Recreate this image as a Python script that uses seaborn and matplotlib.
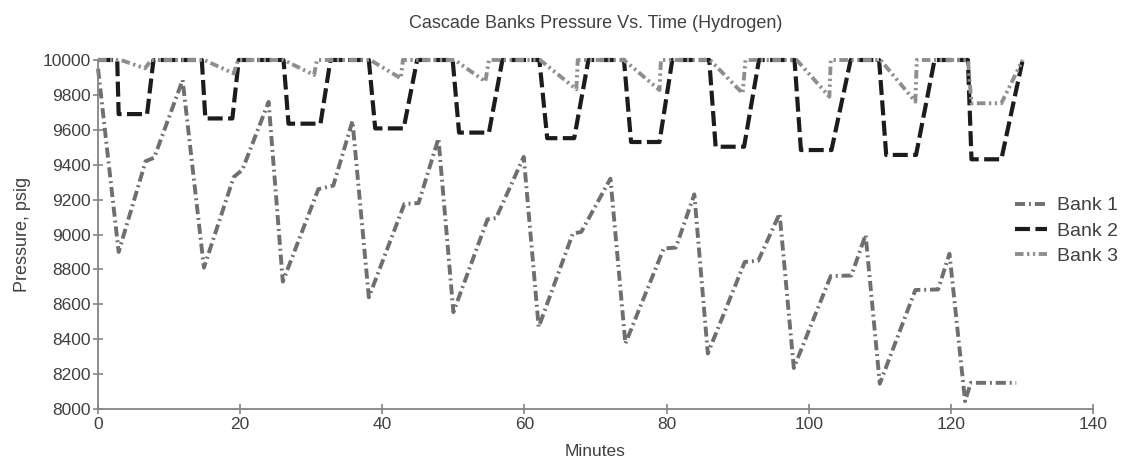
import matplotlib
matplotlib.use("Agg")
import matplotlib.pyplot as plt
import seaborn as sns

# Bank 1 (dash-dot, mid gray)
bank1_min = [0, 2.9, 6.7, 7.9, 11.9, 14.9, 19.1, 20.3, 24.0, 26.0, 31.0, 33.1, 35.8,
             38.1, 43.1, 45.1, 47.9, 50.0, 54.8, 56.0, 59.9, 62.0, 66.8, 68.0, 72.1,
             74.2, 79.6, 81.3, 83.9, 85.8, 91.0, 92.9, 95.9, 97.9, 103.1, 106.0, 108.0,
             110.0, 115.0, 118.2, 119.8, 122.0, 122.8, 129.2]
bank1_psi = [9950, 8900, 9420, 9440, 9885, 8810, 9330, 9370, 9760, 8730, 9260, 9280, 9650,
             8640, 9175, 9180, 9550, 8555, 9087, 9094, 9445, 8470, 9005, 9015, 9320,
             8375, 8920, 8925, 9230, 8318, 8843, 8850, 9120, 8235, 8762, 8765, 8998,
             8145, 8682, 8685, 8890, 8045, 8150, 8150]

# Bank 2 (dashed, black)
bank2_min = [0, 2.7, 2.9, 6.9, 7.8, 14.6, 15.1, 18.9, 19.8, 26.1, 26.8, 31.3, 32.7,
             38.1, 39.0, 43.0, 44.9, 49.9, 50.8, 55.0, 56.9, 62.1, 63.2, 67.0, 69.0,
             74.0, 75.0, 79.0, 80.8, 86.0, 86.9, 90.9, 93.0, 98.0, 98.9, 103.2, 105.9,
             109.9, 110.9, 115.1, 117.7, 122.4, 122.9, 127.1, 130.1]
bank2_psi = [10000, 10000, 9690, 9690, 10000, 10000, 9665, 9665, 10000, 10000, 9635, 9635, 10000,
             10000, 9608, 9608, 10000, 10000, 9584, 9584, 10000, 10000, 9552, 9552, 10000,
             10000, 9530, 9530, 10000, 10000, 9503, 9503, 10000, 10000, 9484, 9484, 10000,
             10000, 9456, 9456, 10000, 10000, 9431, 9431, 10000]

# Bank 3 (dash-dot-dot, light gray)
bank3_min = [0, 3.2, 6.6, 7.5, 14.9, 19.1, 19.7, 26.1, 30.4, 30.8, 38.3, 42.6, 42.9,
             50.2, 54.5, 55.0, 62.2, 67.3, 67.5, 74.0, 79.0, 79.2, 86.1, 90.7, 91.1,
             98.3, 102.9, 103.1, 110.1, 115.0, 115.2, 122.4, 122.9, 127.1, 130.1]
bank3_psi = [10000, 10000, 9952, 10000, 10000, 9923, 10000, 10000, 9914, 10000, 10000, 9895, 10000,
             10000, 9876, 10000, 10000, 9832, 10000, 10000, 9828, 10000, 10000, 9809, 10000,
             10000, 9790, 10000, 10000, 9761, 10000, 10000, 9752, 9752, 10000]

x_ticks = list(range(0, 141, 20))
y_ticks = list(range(8000, 10001, 200))

sns.set_theme(style="white")
plt.rcParams["font.family"] = ["Liberation Sans", "DejaVu Sans"]
text_col = "#404040"
axis_col = "#858585"

fig = plt.figure(figsize=(11.23, 4.59), dpi=100)
ax = fig.add_axes([0.0873, 0.1089, 0.886, 0.7604])

sns.lineplot(x=bank1_min, y=bank1_psi, ax=ax, sort=False, estimator=None, color="#6f6f6f",
             linewidth=2.8, linestyle=(0, (2.6, 1.0, 0.5, 1.0)), label="Bank 1", clip_on=False)
sns.lineplot(x=bank2_min, y=bank2_psi, ax=ax, sort=False, estimator=None, color="#1c1c1c",
             linewidth=3.0, linestyle=(0, (3.6, 1.3)), label="Bank 2", clip_on=False)
sns.lineplot(x=bank3_min, y=bank3_psi, ax=ax, sort=False, estimator=None, color="#8e8e8e",
             linewidth=2.8, linestyle=(0, (2.2, 0.9, 0.6, 0.9, 0.6, 0.9)), label="Bank 3", clip_on=False)

ax.set_xlim(0, 140)
ax.set_ylim(8000, 10000)
ax.set_xticks(x_ticks)
ax.set_yticks(y_ticks)
for side in ["top", "right"]:
    ax.spines[side].set_visible(False)
for side in ["left", "bottom"]:
    ax.spines[side].set_color(axis_col)
    ax.spines[side].set_linewidth(1.3)
ax.tick_params(axis="both", direction="inout", length=7, width=1.2, color=axis_col,
               labelsize=12.5, labelcolor=text_col, left=True, bottom=True, pad=2)

ax.set_title("Cascade Banks Pressure Vs. Time (Hydrogen)", fontsize=13, color=text_col, pad=23)
ax.set_xlabel("Minutes", fontsize=12.5, color=text_col, labelpad=9)
ax.set_ylabel("Pressure, psig", fontsize=13, color=text_col, labelpad=8)

handles, labels = ax.get_legend_handles_labels()
ax.legend_.remove()
fig.legend(handles, labels, loc="center left", bbox_to_anchor=(0.904, 1 - 231 / 459),
           frameon=False, fontsize=14, handlelength=1.65, handletextpad=0.5,
           labelspacing=0.4, borderpad=0, borderaxespad=0, labelcolor=text_col)

fig.savefig("out.png", dpi=100)
